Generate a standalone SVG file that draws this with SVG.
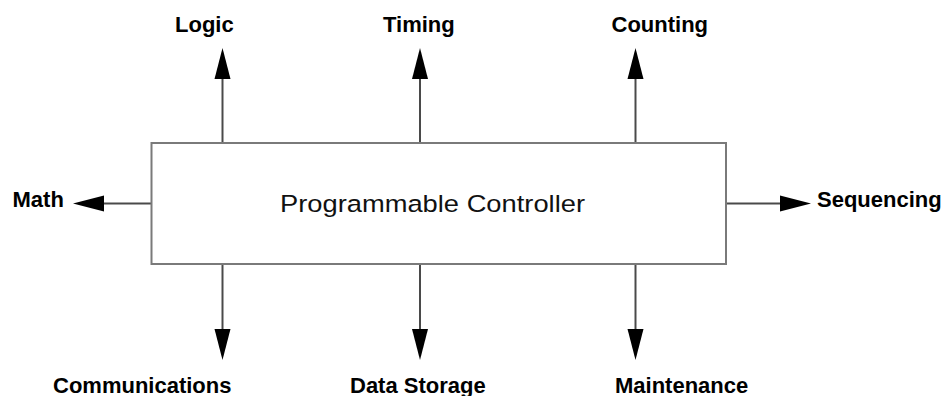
<svg xmlns="http://www.w3.org/2000/svg" width="945" height="396" viewBox="0 0 945 396">
  <style>
    .label { font-family: "Liberation Sans", Arial, sans-serif; font-size: 22px; font-weight: bold; fill: #000; }
    .title { font-family: "Liberation Sans", Arial, sans-serif; font-size: 24.5px; fill: #111; }
    .box { fill: #fff; stroke: #7a7a7a; stroke-width: 2; }
    .wire { stroke: #4a4a4a; stroke-width: 2; fill: none; marker-end: url(#head); }
  </style>
  <defs>
    <marker id="head" markerUnits="userSpaceOnUse" markerWidth="32" markerHeight="17" refX="0" refY="8" orient="auto" overflow="visible">
      <path d="M0,0 L31,8 L0,16 Z" fill="#000"/>
    </marker>
  </defs>
  <rect width="945" height="396" fill="#fff"/>

  <g id="connectors">
    <line class="wire" x1="222.5" y1="143" x2="222.5" y2="79"/>
    <line class="wire" x1="420" y1="143" x2="420" y2="79"/>
    <line class="wire" x1="635.5" y1="143" x2="635.5" y2="79"/>
    <line class="wire" x1="222.5" y1="264" x2="222.5" y2="329"/>
    <line class="wire" x1="420" y1="264" x2="420" y2="329"/>
    <line class="wire" x1="635.5" y1="264" x2="635.5" y2="329"/>
    <line class="wire" x1="151.5" y1="203.5" x2="104" y2="203.5"/>
    <line class="wire" x1="726" y1="203.5" x2="780" y2="203.5"/>
  </g>

  <g id="controller">
    <rect class="box" x="151.5" y="143" width="574.5" height="121"/>
    <text class="title" x="280" y="211.5" textLength="305" lengthAdjust="spacingAndGlyphs">Programmable Controller</text>
  </g>

  <g id="logic"><text class="label" x="175" y="32">Logic</text></g>
  <g id="timing"><text class="label" x="383" y="32">Timing</text></g>
  <g id="counting"><text class="label" x="611.5" y="32">Counting</text></g>
  <g id="math"><text class="label" x="12.5" y="207">Math</text></g>
  <g id="sequencing"><text class="label" x="817" y="207">Sequencing</text></g>
  <g id="communications"><text class="label" x="53" y="392.5">Communications</text></g>
  <g id="data-storage"><text class="label" x="350" y="392.5">Data Storage</text></g>
  <g id="maintenance"><text class="label" x="615" y="392.5">Maintenance</text></g>
</svg>
